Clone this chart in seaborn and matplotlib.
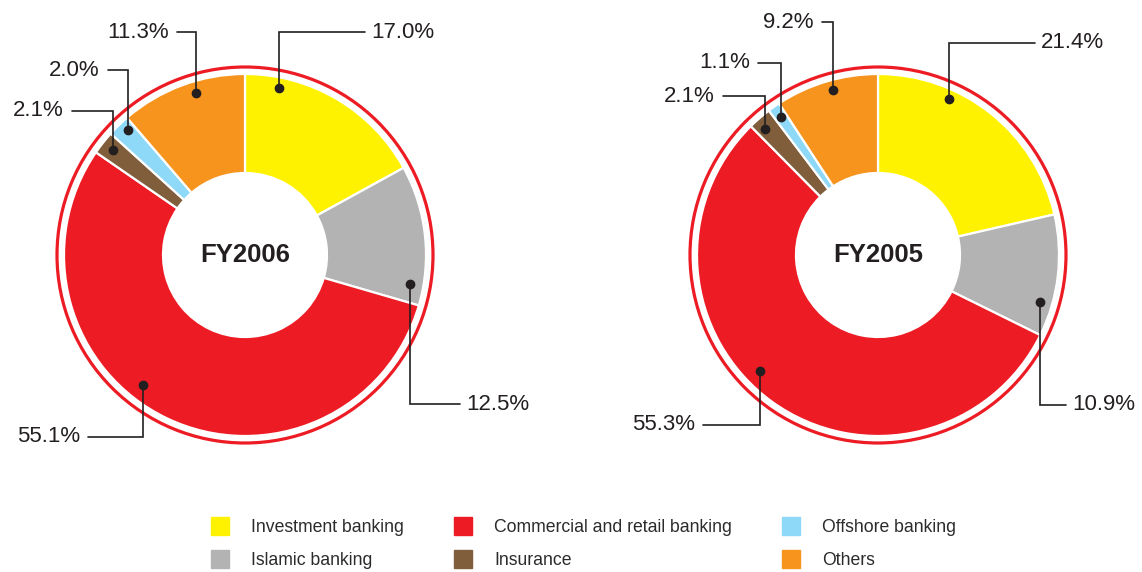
import matplotlib
matplotlib.use("Agg")
import matplotlib.pyplot as plt
from matplotlib.patches import Circle
from matplotlib.lines import Line2D
import seaborn as sns

# data
segments = ["Investment banking", "Islamic banking", "Commercial and retail banking",
            "Insurance", "Offshore banking", "Others"]
fy2006 = [17.0, 12.5, 55.1, 2.1, 2.0, 11.3]
fy2005 = [21.4, 10.9, 55.3, 2.1, 1.1, 9.2]
years = ["FY2006", "FY2005"]

colors = ["#FFF200", "#B3B3B3", "#ED1C24", "#805D3B", "#8ED8F8", "#F7941E"]
ring_red = "#ED1C24"
ink = "#231F20"

# layout in pixel space (y grows downwards)
centers = [(245, 255), (878, 255)]
radius = 181
hole = 82
# leader lines: (dot x, dot y, elbow y, line end x) per segment
leaders = [
    [(279, 88, 32, 365), (410, 284, 404, 460), (143, 385, 437, 88),
     (113, 150, 111, 72), (128, 130, 70, 108), (196, 93, 32, 177)],
    [(949, 99, 43, 1035), (1040, 302, 405, 1066), (760, 371, 425, 703),
     (765, 129, 96, 723), (781, 117, 63, 758), (833, 90, 22, 822)],
]

sns.set_theme(style="white")
plt.rcParams["font.family"] = ["Liberation Sans", "DejaVu Sans"]

fig = plt.figure(figsize=(11.42, 5.72), dpi=100)
ax = fig.add_axes([0, 0, 1, 1])
ax.set_xlim(0, 1142)
ax.set_ylim(572, 0)
ax.axis("off")

for vals, year, (cx, cy), lead in zip([fy2006, fy2005], years, centers, leaders):
    # y axis is inverted, so counterclockwise in data = clockwise on screen
    ax.pie(vals, colors=colors, center=(cx, cy), radius=radius,
           startangle=-90, counterclock=True,
           wedgeprops=dict(width=radius - hole, edgecolor="white", linewidth=1.6),
           frame=True)
    ax.add_patch(Circle((cx, cy), radius + 7, fill=False, edgecolor=ring_red, lw=2.3))
    ax.text(cx, cy, year, ha="center", va="center", fontsize=18.5,
            fontweight="bold", color=ink)

    for v, (dx, dy, ey, ex) in zip(vals, lead):
        ax.plot([dx, dx, ex], [dy, ey, ey], color=ink, lw=1.2, solid_joinstyle="miter")
        ax.plot(dx, dy, "o", color=ink, markersize=6)
        if ex > dx:
            ax.text(ex + 6, ey, f"{v:.1f}%", ha="left", va="center",
                    fontsize=16, color=ink)
        else:
            ax.text(ex - 8, ey, f"{v:.1f}%", ha="right", va="center",
                    fontsize=16, color=ink)

ax.set_xlim(0, 1142)
ax.set_ylim(572, 0)

handles = [Line2D([], [], marker="s", linestyle="none", markersize=13.5,
                  markerfacecolor=c, markeredgecolor=c) for c in colors]
fig.legend(handles, segments, ncol=3, loc="upper left",
           bbox_to_anchor=(202 / 1142, 1 - 510 / 572), frameon=False,
           fontsize=12.7, handlelength=1.0, handletextpad=1.27,
           columnspacing=2.85, labelspacing=0.9, borderpad=0,
           labelcolor="#2b2b2b")

fig.savefig("out.png", dpi=100)
